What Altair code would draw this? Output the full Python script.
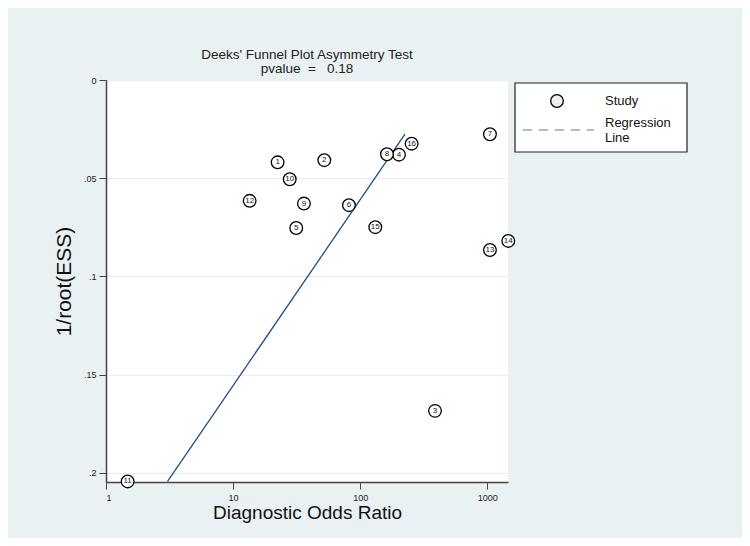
import altair as alt
import pandas as pd

# Study data
study_ids = [1, 2, 3, 4, 5, 6, 7, 8, 9, 10, 11, 12, 13, 14, 15, 16]
dor = [22.4, 52.2, 388, 202, 31.4, 81.6, 1050, 162.5, 36.1, 27.9, 1.48, 13.5, 1050, 1463, 131.5, 254]
inv_root_ess = [0.0419, 0.0408, 0.1684, 0.0380, 0.0753, 0.0637, 0.0276, 0.0378, 0.0629,
                0.0505, 0.2043, 0.0615, 0.0865, 0.0819, 0.0749, 0.0324]

# Regression line end points
reg_dor = [3.05, 225]
reg_y = [0.2043, 0.0276]

x_ticks = [1, 10, 100, 1000]
y_ticks = [0, 0.05, 0.1, 0.15, 0.2]

df = pd.DataFrame({"id": [str(s) for s in study_ids], "dor": dor, "y": inv_root_ess})
reg = pd.DataFrame({"dor": reg_dor, "y": reg_y})
one = pd.DataFrame({"a": [0]})

FONT = "Liberation Sans"
W, H = 402, 402

xscale = alt.Scale(type="log", domain=[1, 1456], nice=False)
yscale = alt.Scale(domain=[0, 0.2046], reverse=True, nice=False, zero=False)

xaxis = alt.Axis(values=x_ticks, format="d", title="Diagnostic Odds Ratio", titleFontSize=19,
                 titleFont=FONT, titleFontWeight="normal", titleColor="#111111",
                 labelFont=FONT, labelFontSize=9, labelColor="#222222",
                 tickSize=7, labelPadding=4, titlePadding=1, grid=False,
                 domainColor="#444444", tickColor="#444444", domainWidth=1.5)
yaxis = alt.Axis(values=y_ticks, labelExpr="replace(toString(datum.value), '0.', '.')",
                 title="1/root(ESS)", titleFontSize=21, titleFont=FONT, titleFontWeight="normal",
                 titleColor="#111111", labelFont=FONT, labelFontSize=9, labelColor="#222222",
                 tickSize=7, labelPadding=3, titlePadding=9, grid=True, gridColor="#e4eef1",
                 gridWidth=1.2, domainColor="#444444", tickColor="#444444", domainWidth=1.5)

base = alt.Chart(df)

line = alt.Chart(reg).mark_line(color="#1f4f80", strokeWidth=1.3).encode(
    x=alt.X("dor:Q", scale=xscale, axis=xaxis),
    y=alt.Y("y:Q", scale=yscale, axis=yaxis),
    order="y:Q",
)

pts = base.mark_point(shape="circle", size=160, filled=False, stroke="black", strokeWidth=1.3,
                      fill="white", fillOpacity=1).encode(
    x=alt.X("dor:Q", scale=xscale),
    y=alt.Y("y:Q", scale=yscale),
)

labels = base.mark_text(font=FONT, fontSize=8, color="#111111", baseline="middle",
                        align="center").encode(
    x=alt.X("dor:Q", scale=xscale),
    y=alt.Y("y:Q", scale=yscale),
    text="id:N",
)

# Manual legend (outside the plot area)
leg_box = alt.Chart(one).mark_rect(fill="white", stroke="#222222", strokeWidth=1.2).encode(
    x=alt.value(409), x2=alt.value(581), y=alt.value(3), y2=alt.value(72))
leg_circ = alt.Chart(one).mark_point(shape="circle", size=160, filled=False, stroke="black",
                                     strokeWidth=1.3, fill="#eeeeee", fillOpacity=1).encode(
    x=alt.value(451), y=alt.value(21))
leg_dash = alt.Chart(one).mark_rule(color="#8ea8c8", strokeWidth=1.5, strokeDash=[9, 7]).encode(
    x=alt.value(417), x2=alt.value(488), y=alt.value(50))
leg_t1 = alt.Chart(one).mark_text(text="Study", font=FONT, fontSize=13, align="left",
                                  baseline="middle", color="#111111").encode(
    x=alt.value(499), y=alt.value(21))
leg_t2 = alt.Chart(one).mark_text(text="Regression", font=FONT, fontSize=13, align="left",
                                  baseline="middle", color="#111111").encode(
    x=alt.value(499), y=alt.value(43))
leg_t3 = alt.Chart(one).mark_text(text="Line", font=FONT, fontSize=13, align="left",
                                  baseline="middle", color="#111111").encode(
    x=alt.value(499), y=alt.value(58))

chart = alt.layer(line, pts, labels, leg_box, leg_circ, leg_dash, leg_t1, leg_t2, leg_t3).properties(
    width=W, height=H,
    title=alt.TitleParams(
        text=["Deeks' Funnel Plot Asymmetry Test", "pvalue\u00a0\u00a0=\u00a0\u00a0\u00a00.18"],
        font=FONT, fontSize=13.5, fontWeight="normal", color="#222222", lineHeight=13.5,
        anchor="middle", offset=1),
    autosize=alt.AutoSizeParams(type="none"),
    padding={"left": 98, "top": 72, "right": 234, "bottom": 56},
    background="#eaf1f3",
).configure_view(fill="white", stroke=None)

chart.save("out.html", embed_options={"renderer": "svg", "actions": False})
